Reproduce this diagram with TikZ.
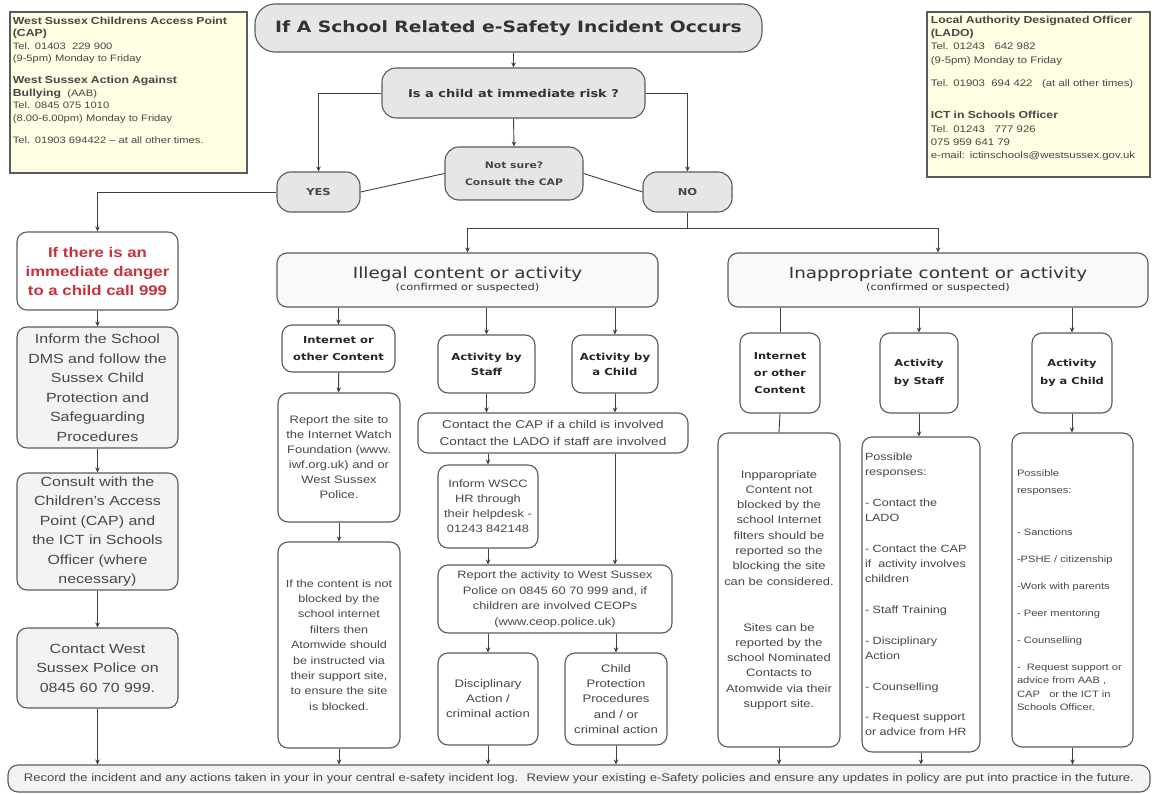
\documentclass[tikz,border=0pt]{standalone}
\usepackage{fontspec}
\usepackage{graphicx}
\setmainfont[FakeStretch=1.2]{Liberation Sans}
\newfontfamily\headfont[FakeStretch=1.2]{DejaVu Sans}
\usetikzlibrary{arrows.meta}

\definecolor{linegray}{HTML}{5A5A5A}
\definecolor{textgray}{HTML}{474747}
\definecolor{boxgray}{HTML}{E6E6E6}
\definecolor{palegray}{HTML}{F3F3F3}
\definecolor{infoyellow}{HTML}{FFFDE2}
\definecolor{dangerred}{HTML}{C8323C}

\newcommand{\fsz}[2]{\fontsize{#1}{#2}\selectfont}
\newcommand{\infohead}[1]{{\fontsize{10.2}{12.5}\selectfont\bfseries #1}}

\tikzset{
	box/.style={draw=linegray, line width=1.1pt, rounded corners=10pt, fill=white, align=center, text=textgray, inner sep=2pt},
	greybox/.style={box, fill=boxgray, text=black!80},
	leftbox/.style={box, fill=palegray, minimum width=161pt},
	headbox/.style={box, font=\headfont\bfseries\fsz{9.6}{16.5}, text=black!85},
	info/.style={draw=linegray, line width=1.2pt, fill=infoyellow},
	infotext/.style={anchor=north west, align=left, text=textgray, inner sep=0pt}
}

\begin{document}
\begin{tikzpicture}[x=1pt, y=-1pt, >={Stealth[length=5pt,width=4.5pt]}, line width=0.9pt, draw=black!75]
	\useasboundingbox (0,0) rectangle (1155,794);

	% contact boxes
	\node[info, minimum width=237pt, minimum height=161pt] (capinfo) at (128.5,92.5) {};
	\node[infotext, text width=231pt, font=\fsz{9.3}{12.5}] (captext) at ([shift={(3pt,-5pt)}]capinfo.north west)
		{\infohead{West Sussex Childrens Access Point}\\\infohead{(CAP)}\\Tel. 01403 \ 229 900\\(9-5pm) Monday to Friday\\[9.5pt]
		 \infohead{West Sussex Action Against}\\\infohead{Bullying} \ (AAB)\\Tel. 0845 075 1010\\(8.00-6.00pm) Monday to Friday\\[9.5pt]
		 Tel. 01903 694422 – at all other times.};
	\node[info, minimum width=223pt, minimum height=165pt] (ladoinfo) at (1038.5,94.5) {};
	\node[infotext, text width=217pt, font=\fsz{9.5}{13.3}] (ladotext) at ([shift={(4pt,-4pt)}]ladoinfo.north west)
		{\infohead{Local Authority Designated Officer}\\\infohead{(LADO)}\\Tel. 01243 \ \ 642 982\\(9-5pm) Monday to Friday\\[10pt]
		 Tel. 01903 \ 694 422 \ \ (at all other times)\\[19pt]
		 \infohead{ICT in Schools Officer}\\Tel. 01243 \ \ 777 926\\075 959 641 79\\e-mail: ictinschools@westsussex.gov.uk};

	% top of the chart
	\node[greybox, rounded corners=20pt, minimum width=507pt, minimum height=48pt, font=\headfont\bfseries\fsz{15.6}{18}, text=black!80] (title) at (508.5,28) {If A School Related e-Safety Incident Occurs};
	\node[greybox, rounded corners=14pt, minimum width=263pt, minimum height=50pt, font=\headfont\bfseries\fsz{10.8}{13}] (risk) at (513.5,93) {Is a child at immediate risk ?};
	\node[greybox, rounded corners=14pt, minimum width=138pt, minimum height=53pt, font=\headfont\bfseries\fsz{9}{17}, text=textgray] (notsure) at (514,173.5) {Not sure?\\Consult the CAP};
	\node[greybox, rounded corners=14pt, minimum width=83pt, minimum height=40pt, font=\headfont\bfseries\fsz{9.6}{12}, text=textgray] (yes) at (318.5,192) {YES};
	\node[greybox, rounded corners=14pt, minimum width=89pt, minimum height=40pt, font=\headfont\bfseries\fsz{9.6}{12}, text=textgray] (no) at (687.5,192) {NO};
	\coordinate[yshift=-16pt] (split) at (no.south);

	\draw[->] (title.south -| risk.north) -- (risk.north);
	\draw[->] (risk.west) -| (yes.north);
	\draw[->] (risk.east) -| (no.north);
	\draw[->] (risk.south) -- (notsure.north);
	\draw (notsure.west) -- (yes.east);
	\draw (notsure.east) -- (no.west);
	\draw (no.south) -- (split);

	% immediate risk
	\node[leftbox, fill=white, minimum height=78pt, font=\bfseries\fsz{14}{19}, text=dangerred] (danger) at (97.5,271) {If there is an\\immediate danger\\to a child call 999};
	\node[leftbox, minimum height=121pt, font=\fsz{13.3}{19.5}] (dms) at (97.5,387.5) {Inform the School\\DMS and follow the\\Sussex Child\\Protection and\\Safeguarding\\Procedures};
	\node[leftbox, minimum height=117pt, font=\fsz{13.3}{19.5}] (consult) at (97.5,531.5) {Consult with the\\Children's Access\\Point (CAP) and\\the ICT in Schools\\Officer (where\\necessary)};
	\node[leftbox, minimum height=80pt, font=\fsz{13.3}{19.5}] (police) at (97.5,668) {Contact West\\Sussex Police on\\0845 60 70 999.};

	\draw[->] (yes.west) -| (danger.north);
	\draw[->] (danger) -- (dms);
	\draw[->] (dms) -- (consult);
	\draw[->] (consult) -- (police);

	% illegal
	\node[box, fill=palegray!50, minimum width=381pt, minimum height=54pt, text=black!80] (illegal) at (467.5,280) {{\headfont\fsz{15.3}{18}Illegal content or activity}\\{\headfont\fsz{9.5}{11}(confirmed or suspected)}};
	\node[headbox, minimum width=113pt, minimum height=47pt] (ilnet) at (338.5,348.5) {Internet or\\other Content};
	\node[headbox, minimum width=97pt, minimum height=58pt, font=\headfont\bfseries\fsz{9.7}{15}] (ilstaff) at (486.5,364) {Activity by\\Staff};
	\node[headbox, minimum width=86pt, minimum height=58pt, font=\headfont\bfseries\fsz{9.7}{15}] (ilchild) at (615,364) {Activity by\\a Child};
	\node[box, minimum width=122pt, minimum height=129pt, font=\fsz{10.8}{15}] (ilreport) at (339,457.5) {Report the site to\\the Internet Watch\\Foundation (www.\\iwf.org.uk) and or\\West Sussex\\Police.};
	\node[box, minimum width=122pt, minimum height=206pt, font=\fsz{10.5}{15.4}] (ilblock) at (339,645) {If the content is not\\blocked by the\\school internet\\filters then\\Atomwide should\\be instructed via\\their support site,\\to ensure the site\\is blocked.};
	\node[box, minimum width=270pt, minimum height=40pt, font=\fsz{11.3}{17}] (contact) at (553,433) {Contact the CAP if a child is involved\\Contact the LADO if staff are involved};
	\node[box, minimum width=100pt, minimum height=83pt, font=\fsz{10.7}{15}] (inform) at (488,506.5) {Inform WSCC\\HR through\\their helpdesk -\\01243 842148};
	\node[box, minimum width=234pt, minimum height=68pt, font=\fsz{10.7}{15.5}] (police2) at (555,599) {Report the activity to West Sussex\\Police on 0845 60 70 999 and, if\\children are involved CEOPs\\(www.ceop.police.uk)};
	\node[box, minimum width=100pt, minimum height=92pt, font=\fsz{10.9}{15}] (discip) at (488,699) {Disciplinary\\Action /\\criminal action};
	\node[box, minimum width=102pt, minimum height=92pt, font=\fsz{10.9}{15.3}] (childprot) at (616,699) {Child\\Protection\\Procedures\\and / or\\criminal action};

	\draw[->] (split) -| (illegal.north);
	\foreach \n in {ilnet,ilstaff,ilchild}
		\draw[->] (illegal.south -| \n.north) -- (\n.north);
	\draw[->] (ilnet) -- (ilreport);
	\draw[->] (ilreport) -- (ilblock);
	\draw[->] (ilstaff.south) -- (ilstaff.south |- contact.north);
	\draw[->] (ilchild.south) -- (ilchild.south |- contact.north);
	\draw[->] (contact.south -| inform.north) -- (inform.north);
	\draw[->] (contact.south -| ilchild.south) -- (ilchild.south |- police2.north);
	\draw[->] (inform.south) -- (inform.south |- police2.north);
	\draw[->] (police2.south -| discip.north) -- (discip.north);
	\draw[->] (police2.south -| childprot.north) -- (childprot.north);

	% inappropriate
	\node[box, fill=palegray!50, minimum width=420pt, minimum height=54pt, text=black!80] (inapp) at (938,280) {{\headfont\fsz{15.3}{18}Inappropriate content or activity}\\{\headfont\fsz{9.5}{11}(confirmed or suspected)}};
	\node[headbox, minimum width=80pt, minimum height=80pt, font=\headfont\bfseries\fsz{9.5}{17}] (innet) at (780,373) {Internet\\or other\\Content};
	\node[headbox, minimum width=78pt, minimum height=80pt, font=\headfont\bfseries\fsz{9.5}{17.5}] (instaff) at (919,373) {Activity\\by Staff};
	\node[headbox, minimum width=80pt, minimum height=80pt, font=\headfont\bfseries\fsz{9.5}{17.5}] (inchild) at (1072,373) {Activity\\by a Child};
	\node[box, minimum width=122pt, minimum height=314pt, font=\fsz{10.8}{15.3}] (insites) at (779,590) {Inpparopriate\\Content not\\blocked by the\\school Internet\\filters should be\\reported so the\\blocking the site\\can be considered.\\[30.6pt]Sites can be\\reported by the\\school Nominated\\Contacts to\\Atomwide via their\\support site.};
	\node[box, align=left, minimum width=118pt, minimum height=315pt, text width=112pt, font=\fsz{10.5}{15.3}] (inresp1) at (921,594.5) {Possible\\responses:\\[15.3pt]- Contact the\\LADO\\[15.3pt]- Contact the CAP\\if \ activity involves\\children\\[15.3pt]- Staff Training\\[15.3pt]- Disciplinary\\Action\\[15.3pt]- Counselling\\[15.3pt]- Request support\\or advice from HR};
	\node[box, align=left, minimum width=121pt, minimum height=314pt, text width=111pt, font=\fsz{9.3}{13.5}] (inresp2) at (1072.5,590) {Possible\\[3.5pt]responses:\\[28.5pt]- Sanctions\\[13.5pt]-PSHE / citizenship\\[13.5pt]-Work with parents\\[13.5pt]- Peer mentoring\\[13.5pt]- Counselling\\[13.5pt]- \ Request support or\\advice from AAB ,\\CAP \ \ or the ICT in\\Schools Officer.};

	\draw[->] (split) -| (inapp.north);
	\draw (inapp.south -| innet.north) -- (innet.north);
	\draw (innet.south) -- (insites.north);
	\draw[->] (inapp.south -| instaff.north) -- (instaff.north);
	\draw[->] (instaff.south) -- (instaff.south |- inresp1.north);
	\draw[->] (inapp.south -| inchild.north) -- (inchild.north);
	\draw[->] (inchild.south) -- (inchild.south |- inresp2.north);

	% bottom
	\node[box, fill=palegray, minimum width=1142pt, minimum height=27pt] (record) at (579,778.5) {\resizebox{1110pt}{8pt}{Record the incident and any actions taken in your in your central e-safety incident log. \ Review your existing e-Safety policies and ensure any updates in policy are put into practice in the future.}};
	\foreach \n in {police,ilblock,discip,childprot,insites,inresp1,inresp2}
		\draw[->] (\n.south) -- (\n.south |- record.north);
\end{tikzpicture}
\end{document}
